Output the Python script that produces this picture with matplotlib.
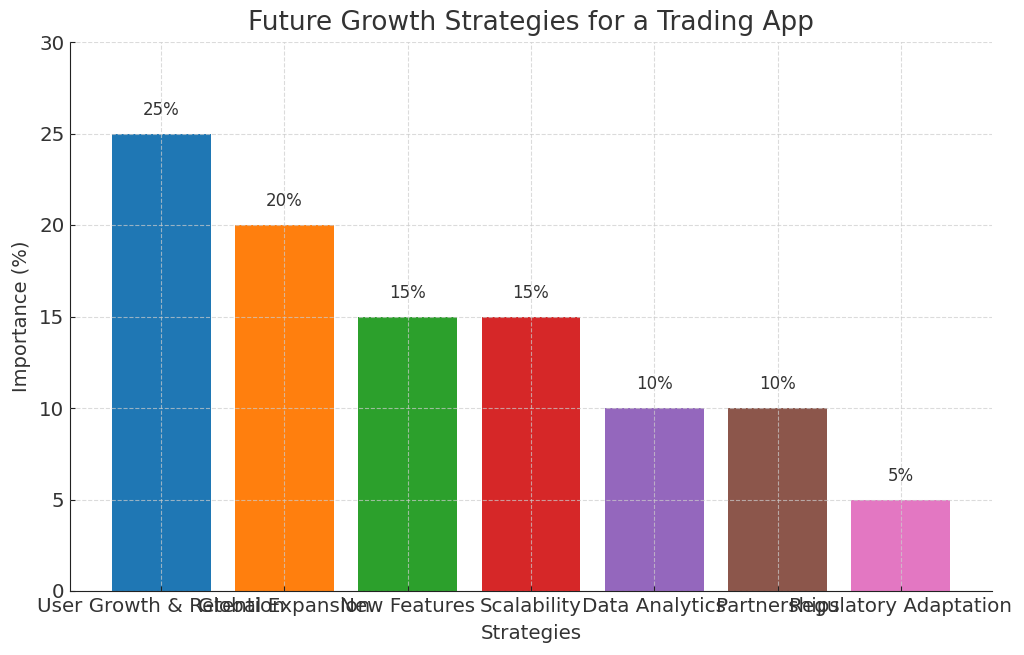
import matplotlib
matplotlib.use("Agg")
import matplotlib.pyplot as plt

strategies = ["User Growth & Retention", "Global Expansion", "New Features", "Scalability",
              "Data Analytics", "Partnerships", "Regulatory Adaptation"]
importance = [25, 20, 15, 15, 10, 10, 5]
colors = ["#1f77b4", "#ff7f0e", "#2ca02c", "#d62728", "#9467bd", "#8c564b", "#e377c2"]

txt = "#333333"
plt.rcParams['font.family'] = ['DejaVu Sans']
fig = plt.figure(figsize=(10.24, 6.55), dpi=100)
ax = fig.add_axes([70/1024, 1 - 591/655, (992-70)/1024, (591-42)/655])

bars = ax.bar(strategies, importance, color=colors, width=0.8)
for b, v in zip(bars, importance):
    ax.annotate(f"{v}%", (b.get_x() + b.get_width()/2, v), xytext=(0, 10.5),
                textcoords="offset points", ha="center", va="bottom", fontsize=12, color=txt)

ax.set_ylim(0, 30)
ax.set_title("Future Growth Strategies for a Trading App", fontsize=19, color=txt, pad=9)
ax.set_xlabel("Strategies", fontsize=14.3, color=txt, labelpad=6)
ax.set_ylabel("Importance (%)", fontsize=14, color=txt, labelpad=6)
ax.tick_params(direction="in", labelsize=14.3, colors=txt, pad=4)
ax.tick_params(axis="both", color="#222222")
ax.grid(True, linestyle="--", color="#cccccc", linewidth=0.8, alpha=0.7)
ax.set_axisbelow(False)
ax.spines["top"].set_visible(False)
ax.spines["right"].set_visible(False)
for s in ("left", "bottom"):
    ax.spines[s].set_color("#222222")

fig.savefig("out.png", dpi=100)
